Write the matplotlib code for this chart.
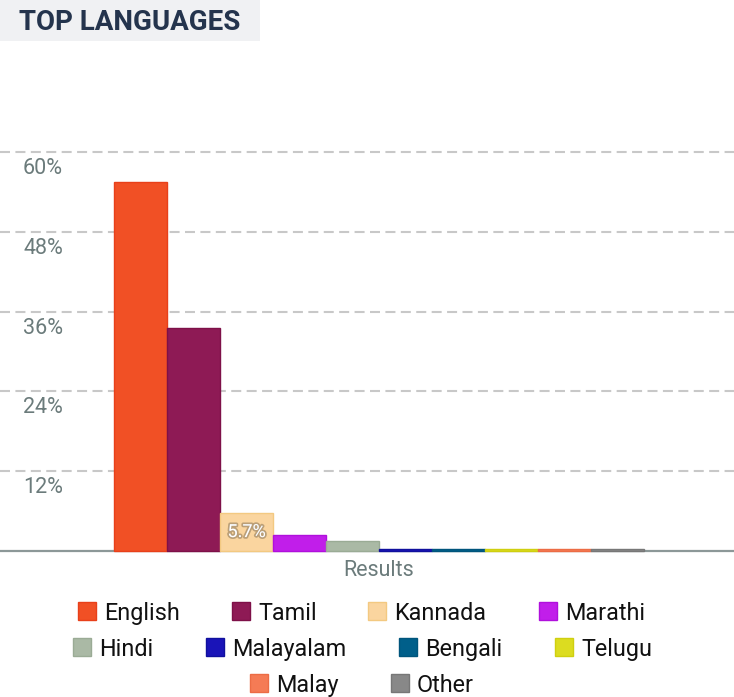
import matplotlib
matplotlib.use("Agg")
import matplotlib.pyplot as plt
import matplotlib.patheffects as pe
from matplotlib.patches import Rectangle

plt.rcParams['font.family'] = ['Roboto', 'DejaVu Sans']

# data
languages = ['English', 'Tamil', 'Kannada', 'Marathi', 'Hindi',
             'Malayalam', 'Bengali', 'Telugu', 'Malay', 'Other']
shares = [55.5, 33.6, 5.7, 2.4, 1.45, 0.3, 0.3, 0.3, 0.3, 0.25]
colors = ['#f15025', '#8e1a55', '#fad59f', '#c11eea', '#aab9a5',
          '#1a14b8', '#005f8a', '#dcdc20', '#f57b55', '#888888']
edges = ['#e8401a', '#7e1048', '#f3c981', '#b010dc', '#9aab95',
         '#10109e', '#00557c', '#cfcf10', '#ec6c45', '#777777']
yticks = [12, 24, 36, 48, 60]
category = 'Results'
labelled = {'Kannada': '5.7%'}

W, H = 734, 697
fig = plt.figure(figsize=(W / 100, H / 100), dpi=100)


def fx(px):
    return px / W


def fy(py):
    return 1 - py / H


# plot area: baseline at y=551px, 60% line at y=152px
ax = fig.add_axes([0, fy(551), 1, fy(152) - fy(551)])
bw = 53
xs = list(range(len(languages)))
ax.bar(xs, shares, width=1.0, color=colors, edgecolor=edges, linewidth=1,
       zorder=5, clip_on=False)
ax.set_xlim(-0.5 - 114 / bw, len(languages) - 0.5 + 90 / bw)
ax.set_ylim(0, 60)
for s in ax.spines.values():
    s.set_visible(False)
ax.set_xticks([])
ax.set_yticks([])
ax.patch.set_alpha(0)

for t in yticks:
    ax.axhline(t, color='#c8c8c8', lw=1.5, linestyle=(0, (4.8, 2.6)), zorder=1, clip_on=False)
    ax.annotate(f'{t}%', xy=(63 / W, t), xycoords=('axes fraction', 'data'),
                xytext=(0, -6), textcoords='offset pixels',
                ha='right', va='top', fontsize=15.5, color='#6b7b7b')
ax.axhline(0, color='#8c9898', lw=1.6, zorder=4, clip_on=False)

for i, name in enumerate(languages):
    if name in labelled:
        ax.text(xs[i], shares[i] / 2, labelled[name], ha='center', va='center',
                fontsize=13, color='white', zorder=6,
                path_effects=[pe.withStroke(linewidth=2.5, foreground='#00000040')])

ax.text((len(languages) - 1) / 2, 0, category, ha='center', va='top',
        fontsize=15.5, color='#6b7b7b',
        transform=ax.transData + matplotlib.transforms.ScaledTranslation(0, -0.085, fig.dpi_scale_trans))

# title block
fig.patches.append(Rectangle((0, fy(41)), fx(260), 41 / H, transform=fig.transFigure,
                             facecolor='#f0f1f3', edgecolor='none', zorder=0))
fig.text(fx(19), fy(22), 'TOP LANGUAGES', ha='left', va='center',
         fontsize=20, fontweight='bold', color='#24344d')

# legend (manual layout, 4 + 4 + 2 centred)
legend_x = [78, 232, 368, 539, 73, 206, 399, 555, 250, 391]
legend_row = [0, 0, 0, 0, 1, 1, 1, 1, 2, 2]
row_y = [611, 647, 683]
sw = 18
for i, name in enumerate(languages):
    x0 = legend_x[i]
    yc = row_y[legend_row[i]]
    fig.patches.append(Rectangle((fx(x0), fy(yc + sw / 2)), fx(sw), sw / H,
                                 transform=fig.transFigure, facecolor=colors[i],
                                 edgecolor=edges[i], linewidth=1))
    fig.text(fx(x0 + 26), fy(yc), name, ha='left', va='center_baseline',
             fontsize=16.8, color='#111111')

fig.savefig('out.png', dpi=100)
